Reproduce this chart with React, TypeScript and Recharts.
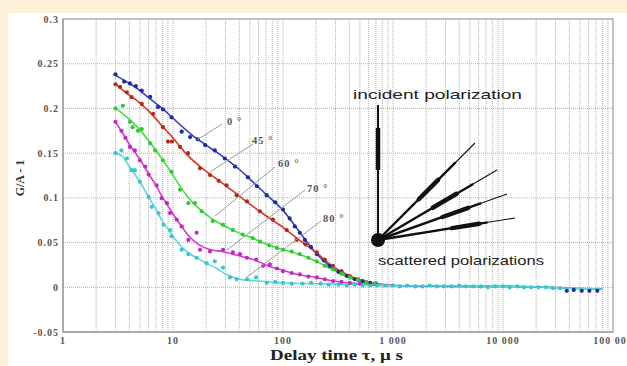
import React from "react";
import {
  ComposedChart,
  Line,
  Scatter,
  XAxis,
  YAxis,
  CartesianGrid,
} from "recharts";

// tick values
const xTicks = [
  1, 2, 3, 4, 5, 6, 7, 8, 9,
  10, 20, 30, 40, 50, 60, 70, 80, 90,
  100, 200, 300, 400, 500, 600, 700, 800, 900,
  1000, 2000, 3000, 4000, 5000, 6000, 7000, 8000, 9000,
  10000, 20000, 30000, 40000, 50000, 60000, 70000, 80000, 90000,
  100000,
];
const xLabels: Record<number, string> = {
  1: "1",
  10: "10",
  100: "100",
  1000: "1 000",
  10000: "10 000",
  100000: "100 000",
};
const yTicks = [-0.05, 0, 0.05, 0.1, 0.15, 0.2, 0.25, 0.3];

// fitted curves [tau, G/A-1]
const fit0 = [
  [3, 0.237], [4, 0.228], [5, 0.22], [6, 0.212], [8, 0.2], [10, 0.189],
  [15, 0.17], [20, 0.159], [30, 0.144], [40, 0.132],
  [50, 0.121], [70, 0.104], [100, 0.086], [130, 0.068], [160, 0.053], [200, 0.038],
  [270, 0.023], [380, 0.012], [530, 0.006], [800, 0.003], [1000, 0.002],
  [2000, 0.0015], [5000, 0.001], [10000, 0.001], [20000, 0.0005], [40000, -0.001],
  [80000, -0.002],
];
const fit45 = [
  [3, 0.227], [4, 0.215], [5, 0.206], [6.6, 0.192], [8, 0.18], [10, 0.167],
  [13, 0.15], [18, 0.134], [22, 0.126], [30, 0.114], [40, 0.102],
  [50, 0.093], [70, 0.08], [100, 0.067], [140, 0.053], [200, 0.039], [280, 0.024],
  [400, 0.013], [580, 0.006], [800, 0.003], [1000, 0.002],
];
const fit60 = [
  [3, 0.2], [4, 0.188], [5, 0.176], [6, 0.164], [7, 0.153], [8, 0.143],
  [9.7, 0.128], [12, 0.11], [15, 0.095], [18, 0.086], [23, 0.076], [28, 0.07],
  [35, 0.064], [43, 0.059], [53, 0.055], [62, 0.051], [80, 0.046], [100, 0.042],
  [140, 0.037], [200, 0.029], [280, 0.02], [400, 0.011], [580, 0.0056],
  [800, 0.003], [1000, 0.002],
];
const fit70 = [
  [3, 0.185], [3.5, 0.172], [4, 0.16], [5, 0.143], [6, 0.127], [7, 0.114],
  [8, 0.101], [9, 0.091], [10, 0.082], [12, 0.068], [14, 0.057], [17, 0.048],
  [22, 0.042], [28, 0.04], [35, 0.037], [47, 0.033], [57, 0.03], [70, 0.025],
  [100, 0.019], [140, 0.014], [200, 0.011], [285, 0.007], [400, 0.005],
  [800, 0.002], [1000, 0.002],
];
const fit80 = [
  [3, 0.15], [3.5, 0.146], [4, 0.135], [5, 0.118], [6, 0.101], [7, 0.087],
  [8, 0.074], [9, 0.065], [10, 0.057], [12, 0.045], [14, 0.038], [17, 0.032],
  [20, 0.027], [25, 0.021], [30, 0.015], [36, 0.011], [45, 0.008], [60, 0.007],
  [100, 0.005], [200, 0.004], [500, 0.003], [1000, 0.002], [3000, 0.0015],
  [10000, 0.001], [20000, 0.0005], [40000, -0.001], [80000, -0.002],
];

// measured points
const pts0 = [
  [3, 0.238], [3.6, 0.23], [4.06, 0.228], [4.6, 0.225], [5.2, 0.22], [6.2, 0.213],
  [7.3, 0.2015], [8.1, 0.199], [9.7, 0.19], [12, 0.174], [14.3, 0.168], [16.8, 0.1655],
  [19.6, 0.159], [24, 0.153], [29.6, 0.144], [36.6, 0.135], [48, 0.123], [58, 0.113],
  [71, 0.103], [85, 0.095], [100, 0.087], [115, 0.077], [128, 0.068], [142, 0.061],
  [158, 0.053], [180, 0.045], [203, 0.037], [235, 0.03], [265, 0.024], [320, 0.017],
  [380, 0.0126], [450, 0.009], [530, 0.007], [620, 0.005], [700, 0.004],
  [38000, -0.004], [44000, -0.003], [52000, -0.004], [61000, -0.004], [72000, -0.004],
];
const pts45 = [
  [3, 0.227], [3.3, 0.224], [3.8, 0.218], [4.2, 0.2126], [5.2, 0.205], [6.6, 0.194],
  [8.1, 0.179], [9, 0.163], [9.8, 0.163], [11.6, 0.157], [13.7, 0.15], [17.6, 0.133],
  [21.7, 0.1255], [26, 0.119], [30.7, 0.114], [37.9, 0.103], [47, 0.096], [61.7, 0.085],
  [81, 0.0756], [108, 0.064], [133, 0.053], [160, 0.048], [203, 0.039], [240, 0.031],
  [285, 0.024], [340, 0.018], [405, 0.0126], [480, 0.009], [575, 0.0056], [680, 0.004],
];
const pts60 = [
  [3, 0.2], [3.5, 0.203], [4.06, 0.185], [4.3, 0.179], [4.8, 0.175], [5.2, 0.177],
  [6.2, 0.161], [6.9, 0.153], [8.1, 0.142], [9.7, 0.129], [11.6, 0.109], [13.8, 0.094],
  [15.8, 0.094], [18.2, 0.085], [23, 0.074], [28.5, 0.07], [35, 0.064], [43, 0.059],
  [53, 0.055], [62, 0.051], [75, 0.047], [88, 0.044], [100, 0.042], [120, 0.04],
  [142, 0.037], [170, 0.033], [203, 0.029], [240, 0.024], [285, 0.02], [340, 0.015],
  [405, 0.011], [480, 0.008], [575, 0.0056], [680, 0.004],
];
const pts70 = [
  [3, 0.185], [3.4, 0.175], [3.7, 0.167], [4.06, 0.157], [4.5, 0.153], [5, 0.142],
  [5.6, 0.135], [6, 0.126], [7.1, 0.114], [7.9, 0.0997], [8.8, 0.094], [9.4, 0.083],
  [10.8, 0.0756], [12, 0.068], [13.8, 0.053], [16.4, 0.061], [17.6, 0.042], [21.7, 0.04],
  [28.5, 0.042], [35, 0.039], [40.6, 0.037], [47, 0.033], [57, 0.031], [66, 0.024],
  [76, 0.0256], [88, 0.021], [100, 0.018], [120, 0.016], [142, 0.0144], [170, 0.012],
  [203, 0.011], [240, 0.009], [285, 0.007], [340, 0.006], [405, 0.005], [500, 0.004],
];
const pts80 = [
  [3, 0.15], [3.4, 0.153], [3.8, 0.144], [4.2, 0.131], [4.5, 0.131], [5, 0.118],
  [6, 0.101], [6.4, 0.09], [7.4, 0.083], [8.2, 0.07], [9.4, 0.064], [9.7, 0.057],
  [12, 0.042], [13.8, 0.037], [16.4, 0.033], [20.2, 0.027], [24, 0.029], [28.5, 0.022],
  [32.9, 0.011], [37.9, 0.009], [47, 0.009], [57, 0.011], [71, 0.005], [85, 0.006],
  [100, 0.005], [120, 0.004], [150, 0.004], [180, 0.005], [220, 0.004], [260, 0.003],
  [320, 0.003], [380, 0.002], [450, 0.003], [530, 0.002], [620, 0.002], [720, 0.002],
  [850, 0.002], [1000, 0.002], [1150, 0.001], [1350, 0.002], [1600, 0.001], [1850, 0.001],
  [2150, 0.002], [2500, 0.001], [2900, 0.001], [3400, 0.001], [4000, 0.002], [4600, 0.001],
  [5400, 0.001], [6300, 0.001], [7300, 0.0], [8500, 0.001], [10000, 0.001], [11500, 0.0],
  [13500, 0.001], [15500, 0.0], [18000, 0.0], [21000, 0.0], [24500, 0.0], [28500, -0.001],
  [33000, -0.001],
];

const toPts = (a: number[][]) => a.map(([t, v]) => ({ t, v }));

const series = [
  { name: "0", line: "#2e3fc4", dot: "#1f2c9c", fit: fit0, pts: pts0 },
  { name: "45", line: "#d33a22", dot: "#b8281a", fit: fit45, pts: pts45 },
  { name: "60", line: "#45d945", dot: "#2ecc2e", fit: fit60, pts: pts60 },
  { name: "70", line: "#d23ad2", dot: "#c228c2", fit: fit70, pts: pts70 },
  { name: "80", line: "#5cd6d6", dot: "#38c6cc", fit: fit80, pts: pts80 },
];

const serif = "'Liberation Serif', 'DejaVu Serif', serif";
const sans = "'Liberation Sans', Arial, sans-serif";

// angle labels and their leader lines (pixel space of the overlay)
const angleLabels = [
  { text: "0 °", x: 227, y: 125, from: [222, 124], to: [197, 140] },
  { text: "45 °", x: 252, y: 144, from: [253, 144], to: [210, 172] },
  { text: "60 °", x: 278, y: 167, from: [275, 167], to: [215, 216] },
  { text: "70 °", x: 307, y: 192, from: [305, 190], to: [227, 250] },
  { text: "80 °", x: 323, y: 222, from: [321, 221], to: [247, 277] },
];
const rays = [
  [475, 143],
  [497, 170],
  [507, 194],
  [515, 218],
];

function Diagram() {
  const cx = 378;
  const cy = 240;
  return (
    <g>
      <line x1={cx} y1={105} x2={cx} y2={cy} stroke="#111" strokeWidth={2} />
      <line x1={cx} y1={128} x2={cx} y2={170} stroke="#111" strokeWidth={4.5} />
      {rays.map(([ex, ey], i) => {
        const p = (f: number) => [cx + (ex - cx) * f, cy + (ey - cy) * f];
        const [ax, ay] = p(0.8);
        const [bx, by] = p(0.42 + i * 0.04);
        const [dx, dy] = p(0.62 + i * 0.04);
        return (
          <g key={i}>
            <line x1={cx} y1={cy} x2={ex} y2={ey} stroke="#111" strokeWidth={1.1} />
            <line x1={cx} y1={cy} x2={ax} y2={ay} stroke="#111" strokeWidth={2.4} />
            <line x1={bx} y1={by} x2={dx} y2={dy} stroke="#111" strokeWidth={4.5} strokeLinecap="round" />
          </g>
        );
      })}
      <circle cx={cx} cy={cy} r={7} fill="#111" />
      <text x={353} y={99} fontFamily={sans} fontSize={13.5} fill="#222" textLength={169} lengthAdjust="spacingAndGlyphs">
        incident polarization
      </text>
      <text x={378} y={265} fontFamily={sans} fontSize={13.5} fill="#222" textLength={166} lengthAdjust="spacingAndGlyphs">
        scattered polarizations
      </text>
    </g>
  );
}

export default function App() {
  return (
    <div
      style={{
        position: "absolute",
        left: 0,
        top: 0,
        width: 627,
        height: 366,
        background: "#fdf2d8",
        overflow: "hidden",
      }}
    >
      <div style={{ position: "absolute", left: 8, top: 13, width: 619, height: 353, background: "#fff" }} />
      <div style={{ position: "absolute", left: 0, top: 0 }}>
        <ComposedChart
          width={627}
          height={366}
          margin={{ top: 19, right: 14, bottom: 14, left: 3 }}
        >
          <CartesianGrid stroke="#b0b0b0" strokeDasharray="1 1" />
          <XAxis
            dataKey="t"
            type="number"
            scale="log"
            domain={[1, 100000]}
            ticks={xTicks}
            interval={0}
            allowDataOverflow
            height={20}
            tickLine={false}
            tickSize={3}
            tickMargin={2}
            stroke="#999"
            strokeWidth={1.5}
            tick={{ fontFamily: serif, fontSize: 10, fontWeight: 700, fill: "#555", letterSpacing: 1 }}
            tickFormatter={(v: number) => xLabels[v] ?? ""}
          />
          <YAxis
            dataKey="v"
            type="number"
            domain={[-0.05, 0.3]}
            ticks={yTicks}
            interval={0}
            width={60}
            tickLine={false}
            tickSize={2}
            tickMargin={2}
            stroke="#999"
            strokeWidth={1.5}
            tick={{ fontFamily: serif, fontSize: 10, fontWeight: 700, fill: "#555", letterSpacing: 1 }}
            tickFormatter={(v: number) => String(Number(v.toFixed(2)))}
          />
          {series.map((s) => (
            <Line
              key={"l" + s.name}
              data={toPts(s.fit)}
              dataKey="v"
              type="monotone"
              stroke={s.line}
              strokeWidth={1.6}
              dot={false}
              activeDot={false}
              isAnimationActive={false}
            />
          ))}
          {series.map((s) => (
            <Scatter
              key={"s" + s.name}
              data={toPts(s.pts)}
              dataKey="v"
              isAnimationActive={false}
              shape={(p: any) => <circle cx={p.cx} cy={p.cy} r={2.1} fill={s.dot} />}
            />
          ))}
        </ComposedChart>
      </div>
      <svg
        width={627}
        height={366}
        style={{ position: "absolute", left: 0, top: 0, pointerEvents: "none" }}
      >
        <rect x={63} y={19} width={550} height={313} fill="none" stroke="#a8a8a8" strokeWidth={1.2} />
        {angleLabels.map((a) => (
          <g key={a.text}>
            <line x1={a.from[0]} y1={a.from[1]} x2={a.to[0]} y2={a.to[1]} stroke="#9a9a9a" strokeWidth={1} />
            <text x={a.x} y={a.y} fontFamily={serif} fontWeight={700} fontSize={10.5} fill="#555" letterSpacing={1}>
              {a.text}
            </text>
          </g>
        ))}
        <Diagram />
        <text
          x={20}
          y={178}
          transform="rotate(-90 20 178)"
          textAnchor="middle"
          dominantBaseline="central"
          fontFamily={serif}
          fontWeight={700}
          fontSize={12}
          fill="#333"
        >
          G/A - 1
        </text>
        <text
          x={270}
          y={360}
          fontFamily={serif}
          fontWeight={700}
          fontSize={14}
          fill="#222"
          textLength={133}
          lengthAdjust="spacingAndGlyphs"
        >
          Delay time τ, μ s
        </text>
      </svg>
    </div>
  );
}
